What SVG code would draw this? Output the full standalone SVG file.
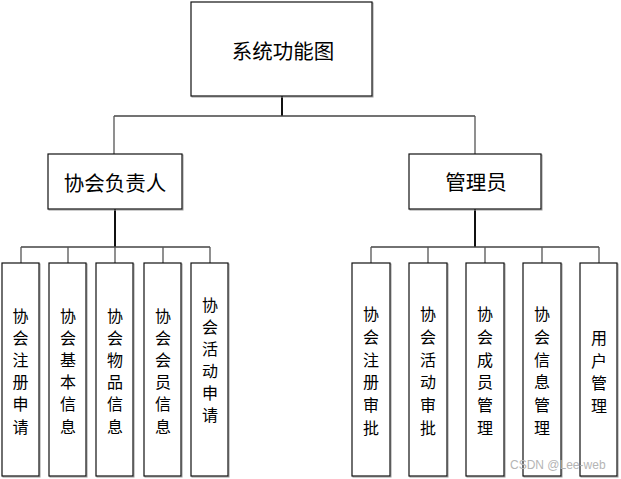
<svg xmlns="http://www.w3.org/2000/svg" width="621" height="479" viewBox="0 0 621 479">
<style>
.box{fill:#fff;stroke:#111;stroke-width:1.2}
.sh{fill:none;stroke:#999;stroke-width:1}
.t{font-family:"Noto Sans CJK SC","Noto Sans CJK TC",sans-serif;fill:#000;text-anchor:middle;dominant-baseline:central}
.trunk{stroke:#111;stroke-width:2;fill:none}
.bar{stroke:#444;stroke-width:1.5;fill:none}
.leg{stroke:#555;stroke-width:1.3;fill:none}
.wm{font-family:"Liberation Sans",Arial,sans-serif;font-size:12px;fill:#b5b5b5}
</style>
<rect width="621" height="479" fill="#fff"/>
<g id="connectors">
<path class="trunk" d="M282 96V116"/>
<path class="bar" d="M114 116H475"/>
<path class="leg" d="M114 116V154M475 116V154"/>
<path class="trunk" d="M115 209V247M475 209V247"/>
<path class="bar" d="M21 247H210M371 247H599"/>
<path class="leg" d="M21 247V263M68 247V263M115 247V263M163 247V263M210 247V263"/>
<path class="leg" d="M371 247V263M428 247V263M485 247V263M542 247V263M599 247V263"/>
</g>
<g id="root">
<rect class="sh" x="192" y="3" width="181" height="94"/>
<rect class="box" x="191" y="2" width="181" height="94"/>
<text class="t" x="283" y="50" font-size="20.5">系统功能图</text>
</g>
<g id="leader">
<rect class="sh" x="49" y="155" width="134" height="55"/>
<rect class="box" x="48" y="154" width="134" height="55"/>
<text class="t" x="115" y="181.5" font-size="20.5">协会负责人</text>
</g>
<g id="admin">
<rect class="sh" x="410" y="155" width="132" height="55"/>
<rect class="box" x="409" y="154" width="132" height="55"/>
<text class="t" x="476" y="180.5" font-size="20.5">管理员</text>
</g>
<g id="l1">
<rect class="sh" x="3" y="264" width="37" height="213"/>
<rect class="box" x="2" y="263" width="37" height="213"/>
<text class="t" font-size="16"><tspan x="20.5" y="315">协</tspan><tspan x="20.5" y="337">会</tspan><tspan x="20.5" y="359">注</tspan><tspan x="20.5" y="381">册</tspan><tspan x="20.5" y="403">申</tspan><tspan x="20.5" y="425.5">请</tspan></text>
</g>
<g id="l2">
<rect class="sh" x="50" y="264" width="37" height="213"/>
<rect class="box" x="49" y="263" width="37" height="213"/>
<text class="t" font-size="16"><tspan x="68" y="315">协</tspan><tspan x="68" y="337">会</tspan><tspan x="68" y="359">基</tspan><tspan x="68" y="381">本</tspan><tspan x="68" y="403">信</tspan><tspan x="68" y="425.5">息</tspan></text>
</g>
<g id="l3">
<rect class="sh" x="97" y="264" width="37" height="213"/>
<rect class="box" x="96" y="263" width="37" height="213"/>
<text class="t" font-size="16"><tspan x="115" y="315">协</tspan><tspan x="115" y="337">会</tspan><tspan x="115" y="359">物</tspan><tspan x="115" y="381">品</tspan><tspan x="115" y="403">信</tspan><tspan x="115" y="425.5">息</tspan></text>
</g>
<g id="l4">
<rect class="sh" x="145" y="264" width="37" height="213"/>
<rect class="box" x="144" y="263" width="37" height="213"/>
<text class="t" font-size="16"><tspan x="163" y="315">协</tspan><tspan x="163" y="337">会</tspan><tspan x="163" y="359">会</tspan><tspan x="163" y="381">员</tspan><tspan x="163" y="403">信</tspan><tspan x="163" y="425.5">息</tspan></text>
</g>
<g id="l5">
<rect class="sh" x="192" y="264" width="37" height="213"/>
<rect class="box" x="191" y="263" width="37" height="213"/>
<text class="t" font-size="16"><tspan x="210" y="304">协</tspan><tspan x="210" y="326">会</tspan><tspan x="210" y="348">活</tspan><tspan x="210" y="370">动</tspan><tspan x="210" y="392">申</tspan><tspan x="210" y="414">请</tspan></text>
</g>
<g id="r1">
<rect class="sh" x="353" y="264" width="38" height="213"/>
<rect class="box" x="352" y="263" width="38" height="213"/>
<text class="t" font-size="16"><tspan x="371" y="313">协</tspan><tspan x="371" y="335.8">会</tspan><tspan x="371" y="358.6">注</tspan><tspan x="371" y="381.4">册</tspan><tspan x="371" y="404.2">审</tspan><tspan x="371" y="427">批</tspan></text>
</g>
<g id="r2">
<rect class="sh" x="410" y="264" width="38" height="213"/>
<rect class="box" x="409" y="263" width="38" height="213"/>
<text class="t" font-size="16"><tspan x="428" y="313">协</tspan><tspan x="428" y="335.8">会</tspan><tspan x="428" y="358.6">活</tspan><tspan x="428" y="381.4">动</tspan><tspan x="428" y="404.2">审</tspan><tspan x="428" y="427">批</tspan></text>
</g>
<g id="r3">
<rect class="sh" x="467" y="264" width="38" height="213"/>
<rect class="box" x="466" y="263" width="38" height="213"/>
<text class="t" font-size="16"><tspan x="485" y="313">协</tspan><tspan x="485" y="335.8">会</tspan><tspan x="485" y="358.6">成</tspan><tspan x="485" y="381.4">员</tspan><tspan x="485" y="404.2">管</tspan><tspan x="485" y="427">理</tspan></text>
</g>
<g id="r4">
<rect class="sh" x="524" y="264" width="38" height="213"/>
<rect class="box" x="523" y="263" width="38" height="213"/>
<text class="t" font-size="16"><tspan x="542" y="313">协</tspan><tspan x="542" y="335.8">会</tspan><tspan x="542" y="358.6">信</tspan><tspan x="542" y="381.4">息</tspan><tspan x="542" y="404.2">管</tspan><tspan x="542" y="427">理</tspan></text>
</g>
<g id="r5">
<rect class="sh" x="581" y="264" width="37" height="213"/>
<rect class="box" x="580" y="263" width="37" height="213"/>
<text class="t" font-size="16"><tspan x="599" y="337">用</tspan><tspan x="599" y="359.7">户</tspan><tspan x="599" y="382.3">管</tspan><tspan x="599" y="405">理</tspan></text>
</g>
<text class="wm" x="510" y="469">CSDN @Lee-web</text>
</svg>
